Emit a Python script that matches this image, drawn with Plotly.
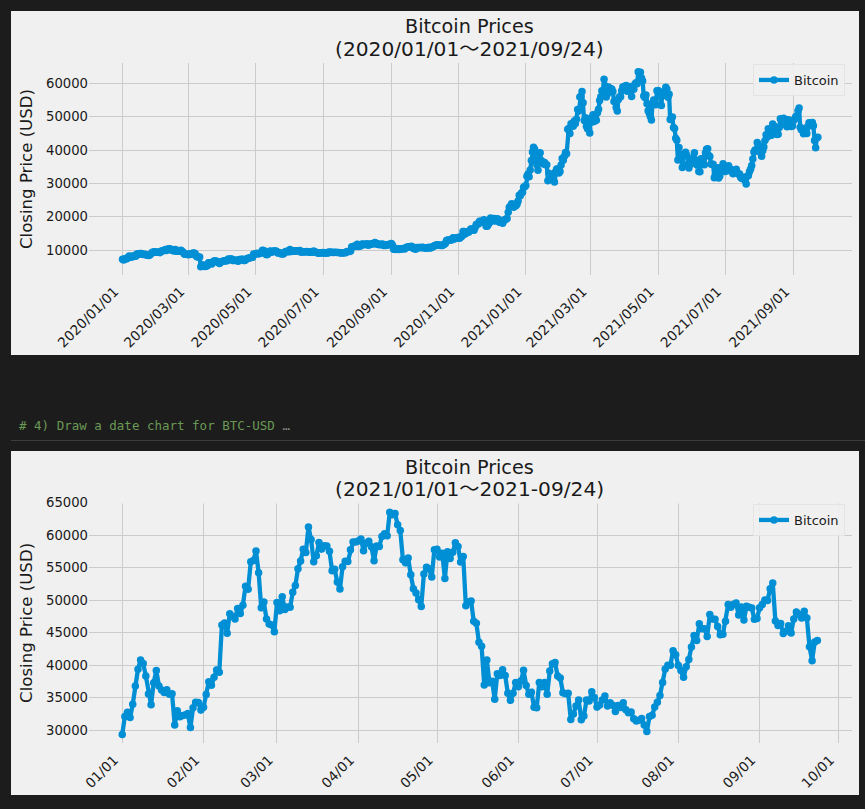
import pandas as pd
import plotly.graph_objects as go

# daily closing prices (USD)
close_2020 = [
    # jan
    7200, 6985, 7345, 7410, 7411, 7769, 8164, 8038, 7847, 8163, 8038, 8192, 8145, 8828, 8808, 8723,
    8929, 8943, 8706, 8658, 8745, 8681, 8406, 8445, 8368, 8597, 8910, 9358, 9317, 9509, 9351,
    # feb
    9393, 9344, 9293, 9180, 9614, 9772, 9772, 9898, 10142, 9851, 10245, 10352, 10276, 10241, 9871,
    9911, 9706, 10135, 9593, 9608, 9686, 9664, 9925, 9650, 9342, 8821, 8744, 8709, 8620,
    # mar
    8563, 8869, 8787, 8755, 9078, 9122, 8909, 8109, 7923, 7909, 7911, 4971, 5563, 5200, 5392, 5014,
    5225, 5239, 6191, 6198, 6185, 5830, 6416, 6734, 6681, 6716, 6469, 6243, 5922, 6429, 6438,
    # apr
    6606, 6793, 6733, 6868, 6792, 7271, 7176, 7335, 7302, 6865, 6859, 6971, 6845, 6842, 6642,
    7116, 7096, 7257, 7189, 6882, 6880, 7117, 7429, 7550, 7569, 7679, 7795, 7807, 8801, 8658,
    # may
    8864, 8988, 8897, 8912, 9003, 9268, 9952, 9842, 9594, 8756, 8601, 8804, 9269, 9734, 9328, 9377,
    9670, 9727, 9729, 9522, 9081, 9182, 9210, 8790, 8906, 8835, 9181, 9525, 9439, 9700, 9461,
    # jun
    10167, 9529, 9656, 9800, 9665, 9653, 9759, 9771, 9795, 9870, 9321, 9480, 9475, 9386, 9454,
    9538, 9480, 9411, 9288, 9332, 9303, 9648, 9629, 9313, 9264, 9162, 9045, 9143, 9190, 9137,
    # jul
    9228, 9123, 9087, 9132, 9073, 9375, 9252, 9428, 9277, 9278, 9240, 9336, 9276, 9243, 9243, 9193,
    9132, 9151, 9159, 9185, 9164, 9374, 9525, 9581, 9536, 9677, 10990, 10912, 11100, 11111, 11323,
    # aug
    11759, 11053, 11246, 11205, 11747, 11779, 11601, 11754, 11675, 11878, 11410, 11584, 11784, 11786,
    11865, 11892, 12254, 11991, 11758, 11878, 11592, 11681, 11664, 11774, 11366, 11488, 11323, 11542,
    11507, 11711, 11680,
    # sep
    11970, 11414, 10245, 10511, 10169, 10280, 10369, 10131, 10242, 10363, 10400, 10442, 10323, 10680,
    10796, 10974, 10948, 10944, 11094, 10938, 10462, 10538, 10246, 10745, 10702, 10754, 10775, 10709,
    10844, 10784,
    # oct
    10619, 10575, 10549, 10669, 10793, 10604, 10668, 10915, 11065, 11296, 11384, 11555, 11426, 11430,
    11505, 11320, 11360, 11495, 11752, 11916, 12823, 12965, 12931, 13108, 13031, 13068, 13654, 13272,
    13437, 13546, 13781,
    # nov
    13737, 13550, 13950, 14133, 15579, 15565, 14833, 15479, 15333, 15290, 15701, 16276, 16317, 16068,
    15955, 16716, 17645, 17804, 17817, 18621, 18642, 18370, 18364, 19107, 18733, 17150, 17108, 17717,
    18177, 19625,
    # dec
    18802, 19201, 19445, 18699, 19154, 19345, 19191, 18321, 18553, 18264, 18058, 18803, 19142, 19246,
    19417, 21310, 22805, 23137, 23869, 23477, 22803, 23783, 23241, 23735, 24664, 26437, 26272, 27084,
    27362, 28841, 29002,
]

close_2021 = [
    # jan
    29374, 32127, 32782, 31971, 33992, 36824, 39371, 40797, 40254, 38356, 35566, 33922, 37316, 39187,
    36825, 36178, 35792, 36248, 35543, 35600, 30807, 33005, 32067, 32289, 32366, 32569, 30432, 33466,
    34316, 34269, 33114,
    # feb
    33537, 35510, 37472, 36926, 38144, 39266, 38903, 46196, 46481, 44918, 47909, 47505, 47105, 48717,
    47945, 49199, 52149, 51679, 55888, 56099, 57539, 54207, 48824, 49705, 47093, 46339, 46188, 45137,
    # mar
    49631, 48378, 50538, 48561, 48927, 48912, 51206, 52246, 54824, 56008, 57805, 57332, 61243, 59302,
    55907, 56804, 58870, 57858, 58346, 58313, 57523, 54529, 54738, 52774, 51704, 55137, 55973, 55950,
    57750, 58917, 58918,
    # apr
    59095, 59384, 57604, 58758, 59057, 58192, 56048, 58323, 58245, 59793, 60204, 59893, 63503, 63109,
    63314, 61572, 60683, 56216, 55724, 56473, 53906, 51762, 51093, 50050, 49004, 54021, 55033, 54824,
    53555, 57750,
    # may
    57828, 56631, 57200, 53333, 57424, 56396, 57356, 58803, 58232, 55859, 56704, 49150, 49716, 49880,
    46760, 46456, 43538, 42909, 36964, 40784, 37304, 37536, 34770, 38705, 38402, 39294, 38436, 35697,
    34616, 35678, 37332,
    # jun
    36685, 37575, 39208, 36894, 35552, 35862, 33560, 33472, 37345, 36702, 37334, 35552, 39098, 40218,
    40406, 38347, 38053, 35787, 35615, 35698, 31676, 32506, 33723, 34662, 31637, 32186, 34650, 34491,
    35911, 35040,
    # jul
    33572, 33897, 34668, 35287, 33746, 34235, 33855, 32877, 33798, 33520, 34240, 33155, 32702, 32822,
    31780, 31421, 31533, 31796, 30817, 29807, 32110, 32313, 33581, 34292, 35350, 37337, 39406, 39995,
    40008, 42235, 41626,
    # aug
    39974, 39201, 38152, 39747, 40869, 42816, 44555, 43798, 46365, 45585, 45593, 44428, 47793, 47096,
    47047, 45936, 44687, 44742, 46760, 49339, 48905, 49321, 49546, 47706, 48960, 46942, 49058, 48897,
    48806, 47074, 47166,
    # sep
    48847, 49327, 50025, 49944, 51753, 52633, 46811, 46091, 46391, 44883, 45201, 46063, 44963, 47092,
    48176, 47783, 47267, 48278, 47260, 42843, 40693, 43574, 43800,
]

dates_all = pd.date_range('2020-01-01', periods=len(close_2020) + len(close_2021))
dates_2021 = pd.date_range('2021-01-01', periods=len(close_2021))

title_top = ['Bitcoin Prices', '(2020/01/01～2021/09/24)']
title_bottom = ['Bitcoin Prices', '(2021/01/01～2021-09/24)']
comment_text = '# 4) Draw a date chart for BTC-USD'

W = 865
H = 809
BLUE = '#008fd5'
PANEL = '#f0f0f0'
DARK = '#1c1c1c'
GRID = '#cbcbcb'
FONT = 'DejaVu Sans, Noto Sans CJK JP'


def fx(px):
    return px / W


def fy(px):
    return 1 - px / H


fig = go.Figure()

fig.add_trace(go.Scatter(x=dates_all, y=close_2020 + close_2021, name='Bitcoin', mode='lines+markers',
                         line={'color': BLUE, 'width': 4.3}, marker={'color': BLUE, 'size': 7.5},
                         xaxis='x', yaxis='y', legend='legend', showlegend=True))
fig.add_trace(go.Scatter(x=dates_2021, y=close_2021, name='Bitcoin', mode='lines+markers',
                         line={'color': BLUE, 'width': 4.3}, marker={'color': BLUE, 'size': 7.5},
                         xaxis='x2', yaxis='y2', legend='legend2', showlegend=True))

axis_common = {'showgrid': True, 'gridcolor': GRID, 'gridwidth': 1, 'zeroline': False, 'showline': False,
               'ticks': '', 'automargin': False}
x_tick_font = {'family': FONT, 'size': 13.7, 'color': '#1a1a1a'}
y_tick_font = {'family': FONT, 'size': 13.2, 'color': '#1a1a1a'}
y_title_font = {'family': FONT, 'size': 16.6, 'color': '#1a1a1a'}


def legend_at(top_px):
    return {'x': fx(845), 'y': fy(top_px), 'xanchor': 'right', 'yanchor': 'top',
            'bgcolor': 'rgba(240,240,240,0.9)', 'bordercolor': '#e4e4e4', 'borderwidth': 1,
            'font': {'family': FONT, 'size': 13, 'color': '#1a1a1a'}}


fig.update_layout(
    width=W, height=H,
    margin={'l': 0, 'r': 0, 't': 0, 'b': 0},
    paper_bgcolor=DARK,
    plot_bgcolor=PANEL,
    font={'family': FONT},
    showlegend=True,
    xaxis={**axis_common, 'domain': [fx(89), fx(852)], 'anchor': 'y', 'type': 'date',
           'range': ['2019-12-01 14:00', '2021-10-24'], 'tickfont': x_tick_font,
           'ticklabelshift': -8, 'ticklabelstandoff': 5,
           'tick0': '2020-01-01', 'dtick': 'M2', 'tickformat': '%Y/%m/%d', 'tickangle': -45},
    yaxis={**axis_common, 'domain': [fy(275), fy(63)], 'anchor': 'x', 'range': [2500, 66100],
           'tickfont': y_tick_font, 'tick0': 0, 'dtick': 10000, 'tickformat': 'd',
           'title': {'text': 'Closing Price (USD)', 'font': y_title_font, 'standoff': 9}},
    xaxis2={**axis_common, 'domain': [fx(89), fx(852)], 'anchor': 'y2', 'type': 'date',
            'range': ['2020-12-19 08:00', '2021-10-06 05:00'], 'tickfont': x_tick_font,
            'ticklabelshift': -8, 'ticklabelstandoff': 5,
            'tick0': '2021-01-01', 'dtick': 'M1', 'tickformat': '%m/%d', 'tickangle': -45},
    yaxis2={**axis_common, 'domain': [fy(743.3), fy(502.5)], 'anchor': 'x2', 'range': [28003, 65000],
            'tickfont': y_tick_font, 'tick0': 0, 'dtick': 5000, 'tickformat': 'd',
            'title': {'text': 'Closing Price (USD)', 'font': y_title_font, 'standoff': 9}},
    legend=legend_at(64),
    legend2=legend_at(504),
)

# notebook cell backgrounds and the separators between them
fig.add_shape(type='rect', xref='paper', yref='paper', x0=fx(11), x1=fx(859), y0=fy(355), y1=fy(11),
              fillcolor=PANEL, line={'width': 0}, layer='below')
fig.add_shape(type='rect', xref='paper', yref='paper', x0=fx(11), x1=fx(859), y0=fy(795), y1=fy(451),
              fillcolor=PANEL, line={'width': 0}, layer='below')
fig.add_shape(type='line', xref='paper', yref='paper', x0=fx(11), x1=1, y0=fy(440.5), y1=fy(440.5),
              line={'color': '#3c3c3c', 'width': 1}, layer='below')
# the 65000 tick has a label but no grid line in the reference
fig.add_shape(type='rect', xref='paper', yref='paper', x0=fx(88), x1=fx(853), y0=fy(503.6), y1=fy(501),
              fillcolor=PANEL, line={'width': 0}, layer='above')

# titles, one annotation per line because plotly's line spacing is wider
for lines, y1, y2 in [(title_top, 27, 48.5), (title_bottom, 467, 488.5)]:
    for text, size, y in zip(lines, [19.2, 20.2], [y1, y2]):
        fig.add_annotation(xref='paper', yref='paper', x=fx(470), y=fy(y), text=text, showarrow=False,
                           xanchor='center', yanchor='middle',
                           font={'family': FONT, 'size': size, 'color': '#1a1a1a'})

fig.add_annotation(xref='paper', yref='paper', x=fx(17), y=fy(425.5),
                   text=comment_text + "<span style='color:#8a8a8a'> …</span>", showarrow=False,
                   xanchor='left', yanchor='middle',
                   font={'family': 'DejaVu Sans Mono', 'size': 12.5, 'color': '#6a9955'})

fig.write_html("out.html", config={'displayModeBar': False},
               post_script="document.body.style.margin = '0';")
